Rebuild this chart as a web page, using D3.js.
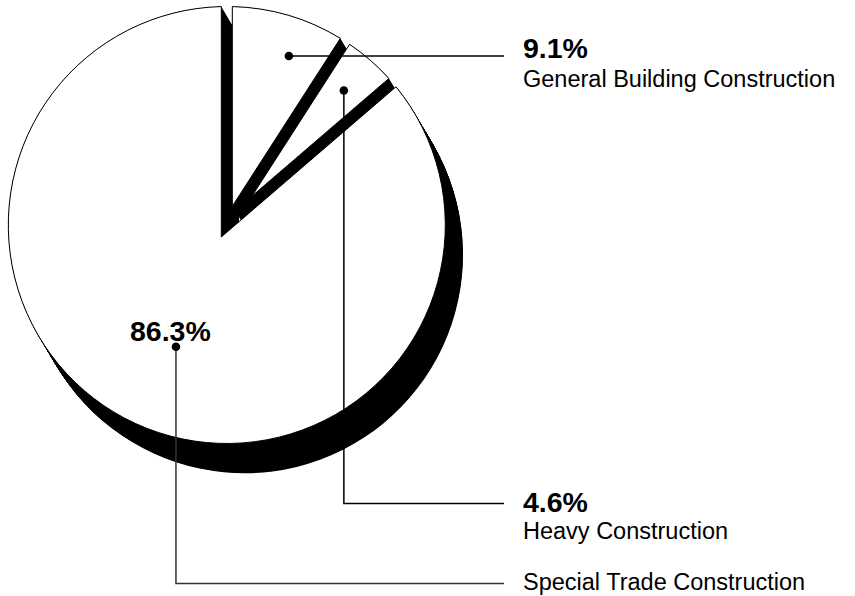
<!DOCTYPE html>
<html>
<head>
<meta charset="utf-8">
<script src="https://cdn.jsdelivr.net/npm/d3@7"></script>
<style>
  body { margin: 0; background: #fff; }
  svg { display: block; }
  text { font-family: "Liberation Sans", Arial, Helvetica, sans-serif; fill: #000; }
</style>
</head>
<body>
<svg id="chart"></svg>
<script>
'use strict';
// data
var categories = ["General Building Construction", "Heavy Construction", "Special Trade Construction"];
var shares = [9.1, 4.6, 86.3];
var pctLabels = ["9.1%", "4.6%", "86.3%"];

(function() {
  var width = 855, height = 596;
  var cx = 226.8, cy = 225, R = 218.5;
  var gap = 5.5;            // half width of the black seams
  var depth = [17.7, 29.7]; // extrusion offset
  var labelX = 523, lineEnd = 504;

  var svg = d3.select("#chart").attr("width", width).attr("height", height);

  var pie = d3.pie().sort(null).value(function(d) { return d; });
  var arcs = pie(shares);

  function pt(r, a) {
    return [cx + r * Math.sin(a), cy - r * Math.cos(a)];
  }

  // slice with constant-width seams
  function slicePath(d) {
    var half = (d.endAngle - d.startAngle) / 2;
    var mid = d.startAngle + half;
    var apex = pt(gap / Math.sin(half), mid);
    var dp = Math.asin(gap / R);
    var a0 = d.startAngle + dp, a1 = d.endAngle - dp;
    var p = d3.path();
    p.moveTo(apex[0], apex[1]);
    var s = pt(R, a0);
    p.lineTo(s[0], s[1]);
    p.arc(cx, cy, R, a0 - Math.PI / 2, a1 - Math.PI / 2, false);
    p.closePath();
    return p.toString();
  }

  // black extruded body
  var steps = d3.range(0, 1.0001, 1 / 60);
  var body = svg.append("g");
  steps.forEach(function(t) {
    body.append("g")
      .attr("transform", "translate(" + (t * depth[0]) + "," + (t * depth[1]) + ")")
      .selectAll("path")
      .data(arcs)
      .enter().append("path")
      .attr("d", slicePath)
      .attr("fill", "#000");
  });

  // white top faces
  svg.append("g").selectAll("path")
    .data(arcs)
    .enter().append("path")
    .attr("d", slicePath)
    .attr("fill", "#fff")
    .attr("stroke", "#000")
    .attr("stroke-width", 1);

  // leader dots: radius fraction and angle nudge (deg)
  var dotSpec = [[0.824, 3.8], [0.816, 0], [0.604, -2]];
  var dots = arcs.map(function(d, i) {
    var mid = (d.startAngle + d.endAngle) / 2 + dotSpec[i][1] * Math.PI / 180;
    return pt(R * dotSpec[i][0], mid);
  });

  var lineY = [dots[0][1], 503.5, 583.5];
  var leaders = svg.append("g")
    .attr("fill", "none")
    .attr("stroke", "#000")
    .attr("stroke-width", 1.5);

  dots.forEach(function(p, i) {
    var pts = i === 0
      ? [p, [lineEnd, lineY[i]]]
      : [p, [p[0], lineY[i]], [lineEnd, lineY[i]]];
    leaders.append("path")
      .attr("d", d3.line()(pts))
      .attr("stroke", i === 2 ? "#333" : "#000");
  });

  svg.append("g").selectAll("circle")
    .data(dots)
    .enter().append("circle")
    .attr("cx", function(d) { return d[0]; })
    .attr("cy", function(d) { return d[1]; })
    .attr("r", 4.3)
    .attr("fill", "#000");

  // labels
  var pctY = [58, 512];
  var nameY = [87, 539, 590];
  [0, 1].forEach(function(i) {
    svg.append("text")
      .attr("x", labelX).attr("y", pctY[i])
      .attr("font-size", 28.5).attr("font-weight", "bold")
      .text(pctLabels[i]);
  });
  categories.forEach(function(c, i) {
    svg.append("text")
      .attr("x", labelX).attr("y", nameY[i])
      .attr("font-size", 23.5)
      .text(c);
  });
  svg.append("text")
    .attr("x", 130).attr("y", 341)
    .attr("font-size", 28.5).attr("font-weight", "bold")
    .text(pctLabels[2]);
})();
</script>
</body>
</html>
